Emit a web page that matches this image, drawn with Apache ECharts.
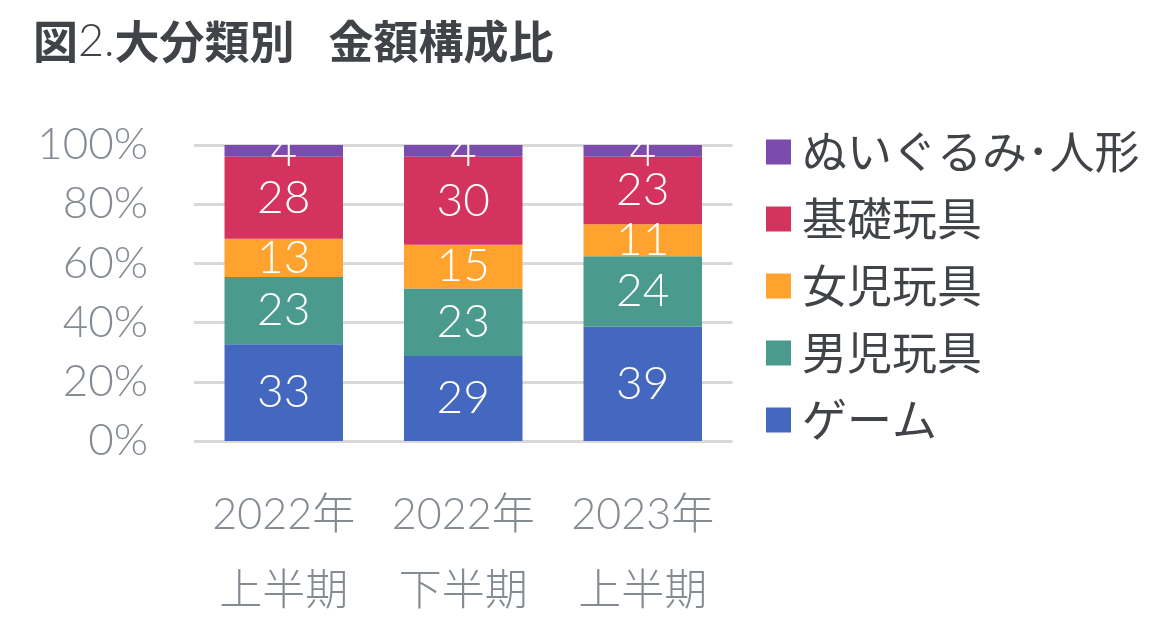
<!DOCTYPE html>
<html><head><meta charset="utf-8">
<script src="https://cdn.jsdelivr.net/npm/echarts@6/dist/echarts.min.js"></script>
<style>html,body{margin:0;padding:0;background:#fff}#c{width:1169px;height:631px}</style>
</head><body><div id="c"></div>
<script>
const categories = ['2022年\n上半期', '2022年\n下半期', '2023年\n上半期'];
const seriesNames = ['ゲーム', '男児玩具', '女児玩具', '基礎玩具', 'ぬいぐるみ･人形'];
const game = [33, 29, 39];
const boys = [23, 23, 24];
const girls = [13, 15, 11];
const basic = [28, 30, 23];
const plush = [4, 4, 4];
const yTicks = [0, 20, 40, 60, 80, 100];
const colors = ['#4468BF', '#4A9A8E', '#FFA22E', '#D3335D', '#7B4BAE'];

const raw = [game, boys, girls, basic, plush];
const totals = categories.map((_, i) => raw.reduce((s, a) => s + a[i], 0));
const FONT = "Lato, 'Noto Sans CJK JP', sans-serif";
const JP = "'Noto Sans CJK JP', sans-serif";

const chart = echarts.init(document.getElementById('c'));
chart.setOption({
  animation: false,
  title: {
    left: 33, top: 19, padding: 0,
    text: '{b|図}{l|2.}{b|大分類別}{g| }{b|金額構成比}',
    textStyle: {
      rich: {
        b: { fontSize: 45, fontWeight: 'bold', color: '#404347', fontFamily: JP },
        l: { fontSize: 45, fontWeight: 300, color: '#404347', fontFamily: FONT },
        g: { fontSize: 45, width: 34 }
      }
    }
  },
  legend: {
    orient: 'vertical',
    left: 766, top: 127, padding: 0,
    itemWidth: 25, itemHeight: 25, itemGap: 17,
    icon: 'rect',
    data: seriesNames.slice().reverse(),
    textStyle: { fontSize: 45, color: '#404347', fontFamily: JP, lineHeight: 50, padding: [0, 0, 0, 6] }
  },
  grid: { left: 194, top: 145, width: 538.5, height: 296 },
  xAxis: {
    type: 'category',
    data: categories,
    axisLine: { show: false },
    axisTick: { show: false },
    axisLabel: { interval: 0, color: '#858B93', fontSize: 43, fontWeight: 300, fontFamily: FONT, lineHeight: 76, margin: 36 }
  },
  yAxis: {
    type: 'value', min: 0, max: 100, interval: 20,
    axisLine: { show: false }, axisTick: { show: false },
    splitLine: { lineStyle: { color: '#D9D9D9', width: 3 } },
    axisLabel: { color: '#858B93', fontSize: 44, fontWeight: 300, fontFamily: FONT, margin: 46,
      formatter: v => yTicks.includes(v) ? v + '%' : '' }
  },
  series: raw.map((arr, k) => ({
    name: seriesNames[k],
    type: 'bar',
    stack: 'total',
    barWidth: '66%',
    itemStyle: { color: colors[k] },
    label: { show: true, position: 'inside', color: '#fff', fontSize: 46, fontWeight: 300, fontFamily: FONT,
      formatter: p => String(arr[p.dataIndex]) },
    data: arr.map((v, i) => v / totals[i] * 100)
  }))
});
</script></body></html>
